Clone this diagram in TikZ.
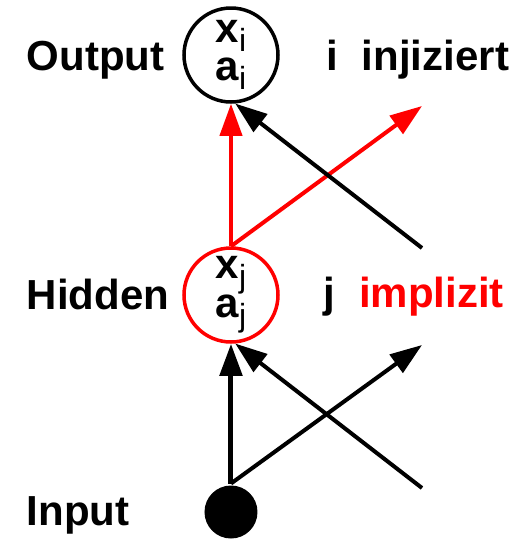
\documentclass[tikz,border=0pt]{standalone}
\usepackage{fontspec}
\setmainfont{Liberation Sans}
\usepackage{tikz}
\usetikzlibrary{arrows.meta, positioning}

\newcommand{\idx}[1]{\raisebox{-9pt}{\fontsize{32}{32}\selectfont\mdseries #1}}

\tikzset{
  unit/.style={circle, draw, line width=3.5pt, minimum size=94pt, inner sep=0pt,
    align=center, font=\fontsize{42}{38}\selectfont\bfseries},
  inpdot/.style={circle, fill, minimum size=53pt, inner sep=0pt},
  lbl/.style={anchor=base west, inner sep=0pt, font=\fontsize{42}{50}\selectfont\bfseries}
}

\begin{document}
\begin{tikzpicture}[x=1pt, y=1pt, on grid, line width=4pt,
    >={Triangle[length=32pt, width=22pt]}]
    \useasboundingbox (-231,55) rectangle (296,-484);

    \node[unit] (out) {x\idx{i}\\a\idx{i}};
    \node[unit, draw=red] (hid) [below=240pt of out] {x\idx{j}\\a\idx{j}};
    \node[inpdot] (in) [below=217pt of hid] {};

    % labels
    \node (outname) [below left=15pt and 206pt of out, lbl] {Output};
    \node (outtag) [below right=15pt and 94pt of out, lbl] {i\ \ injiziert};
    \node (hidname) [below left=14pt and 206pt of hid, lbl] {Hidden};
    \node (hidtag) [below right=12pt and 91pt of hid, lbl] {j\ \ \textcolor{red}{implizit}};
    \node (inname) [below left=13pt and 206pt of in, lbl] {Input};

    % free ends
    \coordinate[below right=51pt and 191pt of out] (rr);
    \coordinate[below right=193pt and 191pt of out] (bt);
    \coordinate[below right=50pt and 191pt of hid] (ar);
    \coordinate[below right=193pt and 191pt of hid] (bl);

    \path[->, red]
    (hid.north) edge (out)
                edge (rr);
    \path[->]
    (bt) edge (out.-85)
    (in.north) edge [line width=5pt] (hid)
               edge (ar)
    (bl) edge (hid.-85);
\end{tikzpicture}
\end{document}
